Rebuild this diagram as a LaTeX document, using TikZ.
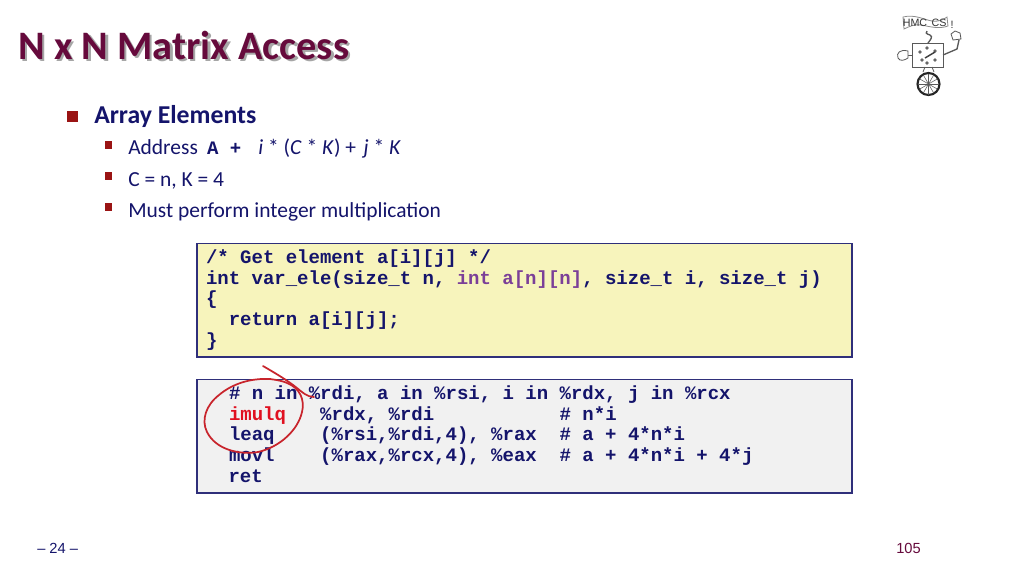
\documentclass[tikz,border=0pt]{standalone}
\usepackage{fontspec}
\setmainfont{Carlito}
\setmonofont{Liberation Mono}
\newfontfamily\arialf{Liberation Sans}
\definecolor{navy}{HTML}{14146B}
\definecolor{titlec}{HTML}{660A3C}
\definecolor{bul}{HTML}{9A1414}
\definecolor{purp}{HTML}{7B3F98}
\definecolor{boxy}{HTML}{F7F4BC}
\definecolor{boxg}{HTML}{F1F1F1}
\definecolor{edgec}{HTML}{2F2F7A}
\definecolor{redc}{HTML}{E01020}
\definecolor{inkr}{HTML}{C8242C}
\newcommand{\tsz}[1]{\fontsize{#1}{#1}\selectfont}
\tikzset{
  x=0.75pt,y=-0.75pt,
  codebox/.style={draw=edgec,line width=0.8pt},
  code/.style={anchor=base west,inner sep=0pt,outer sep=0pt,text=navy,font=\ttfamily\bfseries\tsz{14.25}},
  lvlone/.style={anchor=base west,inner sep=0pt,text=navy,font=\bfseries\tsz{19.3}},
  lvltwo/.style={anchor=base west,inner sep=0pt,text=navy,font=\tsz{16.1}},
  bulone/.style={fill=bul},
  bultwo/.style={fill=bul},
  ink/.style={draw=inkr,line width=1.3pt,line cap=round,line join=round},
  logo/.style={draw=black!65,line width=0.6pt},
}
\begin{document}
\begin{tikzpicture}
\useasboundingbox (0,0) rectangle (1024,576);
\fill[white] (0,0) rectangle (1024,576);
% title
\node[anchor=base west,inner sep=0pt,text=black!35,font=\bfseries\tsz{30.3}] (titleshadow) at (20.5,61.5) {N x N Matrix Access};
\node[anchor=base west,inner sep=0pt,text=titlec,font=\bfseries\tsz{30.3}] (title) at (18,59.5) {N x N Matrix Access};
% bullets
\fill[bulone] (67,111) rectangle (78,122);
\node[lvlone] (l1) at (94,123) {Array Elements};
\fill[bultwo] (105,141) rectangle (112,149);
\node[lvltwo] (l2) at (128,154) {Address};
\node[code] (l2a) at (207,154) {A~+};
\node[lvltwo] (l2b) at (258,154) {\textit{i} * (\textit{C} * \textit{K}) + \hspace{2pt}\textit{j} * \textit{K}};
\fill[bultwo] (105,172) rectangle (112,180);
\node[lvltwo] (l3) at (128,186) {C = n, K = 4};
\fill[bultwo] (105,203) rectangle (112,211);
\node[lvltwo] (l4) at (128,217) {Must perform integer multiplication};
% code box 1
\draw[codebox,fill=boxy] (197,243.5) rectangle (852,357);
\node[code] (c1) at (206,263) {/*~Get~element~a[i][j]~*/};
\node[code] (c2) at (206,284) {int~var\_ele(size\_t~n,~\textcolor{purp}{int~a[n][n]},~size\_t~i,~size\_t~j)};
\node[code] (c3) at (206,304.5) {\{};
\node[code] (c4) at (206,325) {~~return~a[i][j];};
\node[code] (c5) at (206,346) {\}};
% code box 2
\draw[codebox,fill=boxg] (197,379.5) rectangle (852,493);
\node[code] (d1) at (229,399) {\#~n~in~\%rdi,~a~in~\%rsi,~i~in~\%rdx,~j~in~\%rcx};
\node[code] (d2) at (229,420) {\textcolor{redc}{imulq}~~~\%rdx,~\%rdi~~~~~~~~~~~\#~n*i};
\node[code] (d3) at (229,440.5) {leaq~~~~(\%rsi,\%rdi,4),~\%rax~~\#~a~+~4*n*i};
\node[code] (d4) at (229,461) {movl~~~~(\%rax,\%rcx,4),~\%eax~~\#~a~+~4*n*i~+~4*j};
\node[code] (d5) at (228.5,482) {ret};
% red ink
\draw[ink] (263,366) .. controls (275,373) and (287,380) .. (297,388) .. controls (302,392) and (307,397) .. (314,397);
\draw[ink] (287,383) .. controls (300,388) and (305,400) .. (302,412)
  .. controls (298,430) and (280,447) .. (258,452)
  .. controls (240,455) and (216,450) .. (207,432)
  .. controls (201,420) and (206,405) .. (219,395)
  .. controls (232,384) and (250,378) .. (270,379)
  .. controls (277,380) and (283,381) .. (287,383);
% footer
\node[anchor=base west,inner sep=0pt,text=navy,font=\arialf\tsz{11}] (pg) at (37,553) {– 24 –};
\node[anchor=base west,inner sep=0pt,text=titlec,font=\arialf\tsz{11}] (num) at (896,553) {105};
% logo
\draw[logo,fill=white,draw=black!45] (903,17) .. controls (915,14) and (925,20) .. (932,21) .. controls (940,22) and (944,19) .. (947,17) -- (948,26) .. controls (940,29) and (930,27) .. (922,25) .. controls (915,24) and (910,26) .. (904,29) -- cycle;
\node[inner sep=0pt,text=black!80,font=\arialf\tsz{8}] (lg1) at (915,22.5) {HMC};
\node[inner sep=0pt,text=black!80,font=\arialf\tsz{8}] (lg2) at (939,22.5) {CS};
\node[inner sep=0pt,text=black!80,font=\arialf\tsz{8}] (lg3) at (952,25) {!};
\draw[logo,line width=1pt] (928,43) .. controls (931,39) and (933,37) .. (930,35) .. controls (926,34) and (925,32) .. (927,31);
\draw[logo,fill=white] (912,43) rectangle (943,67);
\foreach \p/\q in {927/48,935/51,922/60,927/63,935/60,920/52}{\fill[black!60] (\p,\q) circle (1.8);}
\draw[black!75,line width=1.1pt] (925,58) -- (935,52);
\draw[logo] (908,55) -- (912,55);
\draw[logo,fill=white] (908,51) .. controls (900,49) and (896,53) .. (898,58) .. controls (900,62) and (905,60) .. (908,58) -- cycle;
\draw[logo,line width=1pt] (943,55) -- (957,49) -- (959,40);
\draw[logo,fill=white] (953,40) -- (951,34) -- (955,31) -- (960,33) -- (961,39) -- cycle;
\draw[logo] (925,67) -- (923,72) (932,67) -- (934,72);
\draw[black!85,line width=1.6pt,fill=white] (928.5,84) circle (11);
\foreach \a in {0,30,...,330}{\draw[black!65,line width=0.4pt] (928.5,84) -- ++(\a:10.5);}
\end{tikzpicture}
\end{document}
